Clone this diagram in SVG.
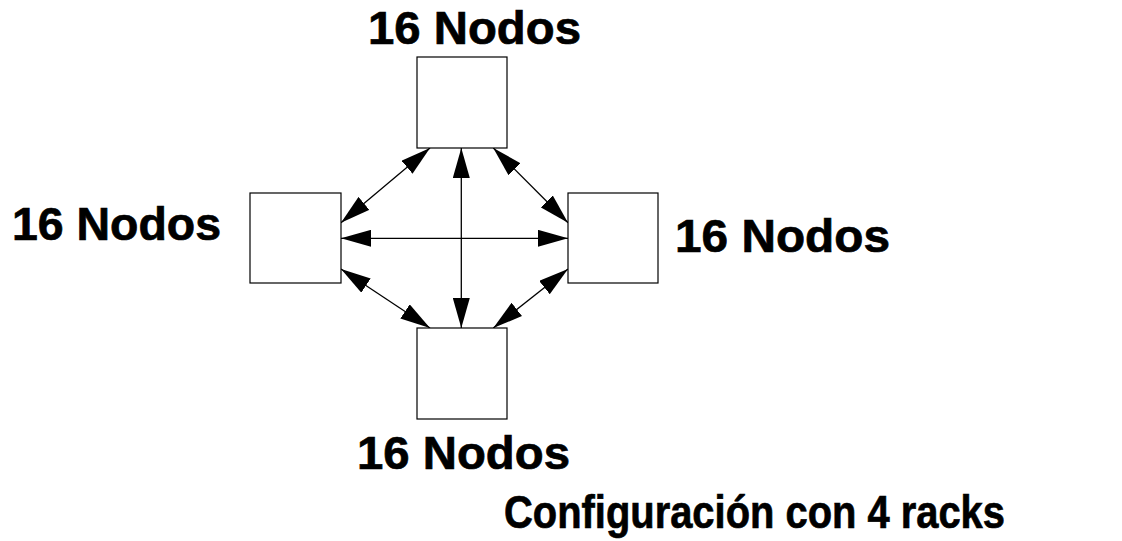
<svg xmlns="http://www.w3.org/2000/svg" width="1122" height="541" viewBox="0 0 1122 541">
  <style>
    .rack { fill: #ffffff; stroke: #000000; stroke-width: 1.2; }
    .link { fill: none; stroke: #000000; stroke-width: 1.3; marker-start: url(#head); marker-end: url(#head); }
    .label { font-family: "Liberation Sans", Arial, sans-serif; font-weight: bold; font-size: 46px; fill: #000000; stroke: #000000; stroke-width: 0.7; }
    .title { font-family: "Liberation Sans", Arial, sans-serif; font-weight: bold; font-size: 47px; fill: #000000; stroke: #000000; stroke-width: 0.7; }
  </style>
  <defs>
    <marker id="head" viewBox="0 0 30 17" refX="30" refY="8.5" markerWidth="30" markerHeight="17" markerUnits="userSpaceOnUse" orient="auto-start-reverse">
      <path d="M0,0 L30,8.5 L0,17 Z" fill="#000000"/>
    </marker>
  </defs>

  <rect width="1122" height="541" fill="#ffffff"/>

  <!-- links between racks -->
  <g id="connectors">
    <line class="link" x1="461.3" y1="148" x2="461.3" y2="328"/>
    <line class="link" x1="341" y1="238.3" x2="568" y2="238.3"/>
    <line class="link" x1="430" y1="148" x2="341" y2="222.7"/>
    <line class="link" x1="493.3" y1="148" x2="568" y2="222.7"/>
    <line class="link" x1="341" y1="269" x2="430" y2="328"/>
    <line class="link" x1="568" y1="269" x2="493.3" y2="328"/>
  </g>

  <g id="rack-top">
    <rect class="rack" x="417" y="57" width="90" height="91"/>
    <text class="label" x="368" y="44" textLength="213" lengthAdjust="spacingAndGlyphs">16 Nodos</text>
  </g>
  <g id="rack-left">
    <rect class="rack" x="250" y="193" width="91" height="90"/>
    <text class="label" x="12" y="240" textLength="209" lengthAdjust="spacingAndGlyphs">16 Nodos</text>
  </g>
  <g id="rack-right">
    <rect class="rack" x="568" y="193" width="90" height="90"/>
    <text class="label" x="675" y="251.5" textLength="215" lengthAdjust="spacingAndGlyphs">16 Nodos</text>
  </g>
  <g id="rack-bottom">
    <rect class="rack" x="417" y="328" width="90" height="91"/>
    <text class="label" x="357" y="469" textLength="213" lengthAdjust="spacingAndGlyphs">16 Nodos</text>
  </g>

  <text class="title" x="504" y="528" textLength="501" lengthAdjust="spacingAndGlyphs">Configuración con 4 racks</text>
</svg>
